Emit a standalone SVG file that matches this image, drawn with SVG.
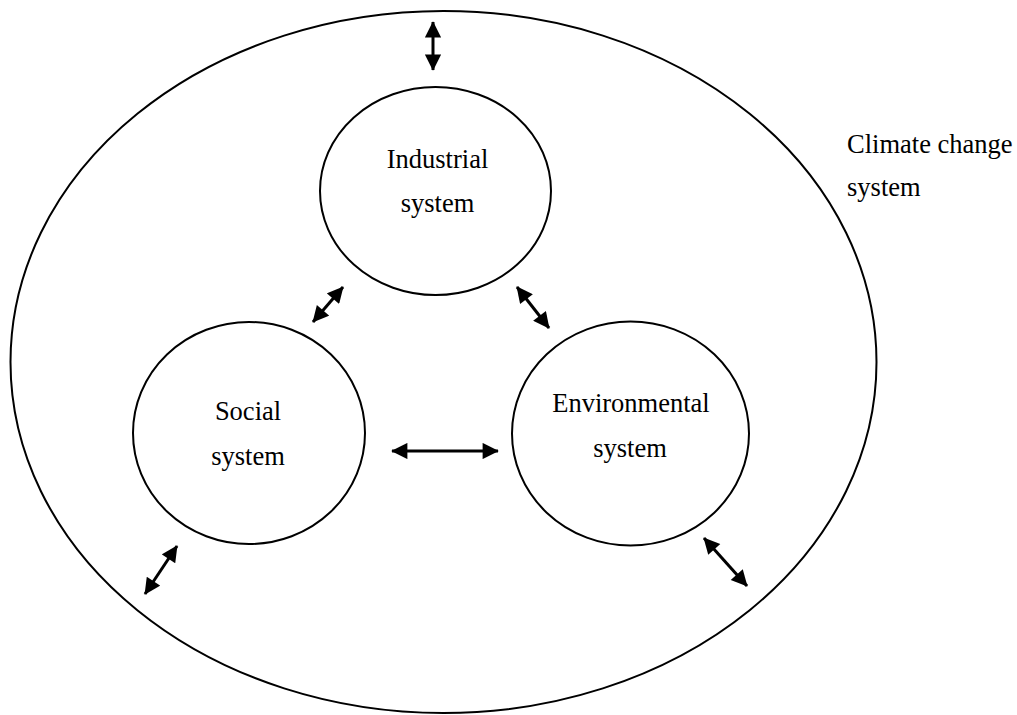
<svg xmlns="http://www.w3.org/2000/svg" width="1017" height="715" viewBox="0 0 1017 715">
<defs>
<marker id="ah" viewBox="0 0 10 10" refX="9.5" refY="5" markerWidth="5.8" markerHeight="5.4" orient="auto-start-reverse" markerUnits="strokeWidth">
<path d="M0,0 L10,5 L0,10 z" fill="#000"/>
</marker>
<style>
.shape{fill:none;stroke:#000;stroke-width:2}
.lbl{font-family:"Liberation Serif","Times New Roman",serif;font-size:26.5px;fill:#000}
.c{text-anchor:middle}
.arr{stroke:#000;stroke-width:3;fill:none;marker-start:url(#ah);marker-end:url(#ah)}
</style>
</defs>
<rect width="1017" height="715" fill="#fff"/>
<g id="climate">
<ellipse class="shape" cx="443.5" cy="362" rx="433" ry="351"/>
<text class="lbl" x="847" y="153">Climate change</text>
<text class="lbl" x="847" y="196">system</text>
</g>
<g id="industrial">
<ellipse class="shape" cx="435.5" cy="191" rx="115.5" ry="104"/>
<text class="lbl c" x="437.5" y="168">Industrial</text>
<text class="lbl c" x="437.5" y="212">system</text>
</g>
<g id="social">
<ellipse class="shape" cx="249" cy="433" rx="116" ry="111"/>
<text class="lbl c" x="248" y="420">Social</text>
<text class="lbl c" x="248" y="465">system</text>
</g>
<g id="environmental">
<ellipse class="shape" cx="630.5" cy="433.5" rx="118.5" ry="112"/>
<text class="lbl c" x="631" y="412">Environmental</text>
<text class="lbl c" x="630" y="457">system</text>
</g>
<g id="connectors">
<line class="arr" x1="433" y1="22" x2="433" y2="70"/>
<line class="arr" x1="313" y1="322" x2="343" y2="287"/>
<line class="arr" x1="517" y1="287" x2="549" y2="328"/>
<line class="arr" x1="392" y1="451" x2="498" y2="451"/>
<line class="arr" x1="145" y1="594" x2="177" y2="546"/>
<line class="arr" x1="704" y1="538" x2="747" y2="586"/>
</g>
</svg>
